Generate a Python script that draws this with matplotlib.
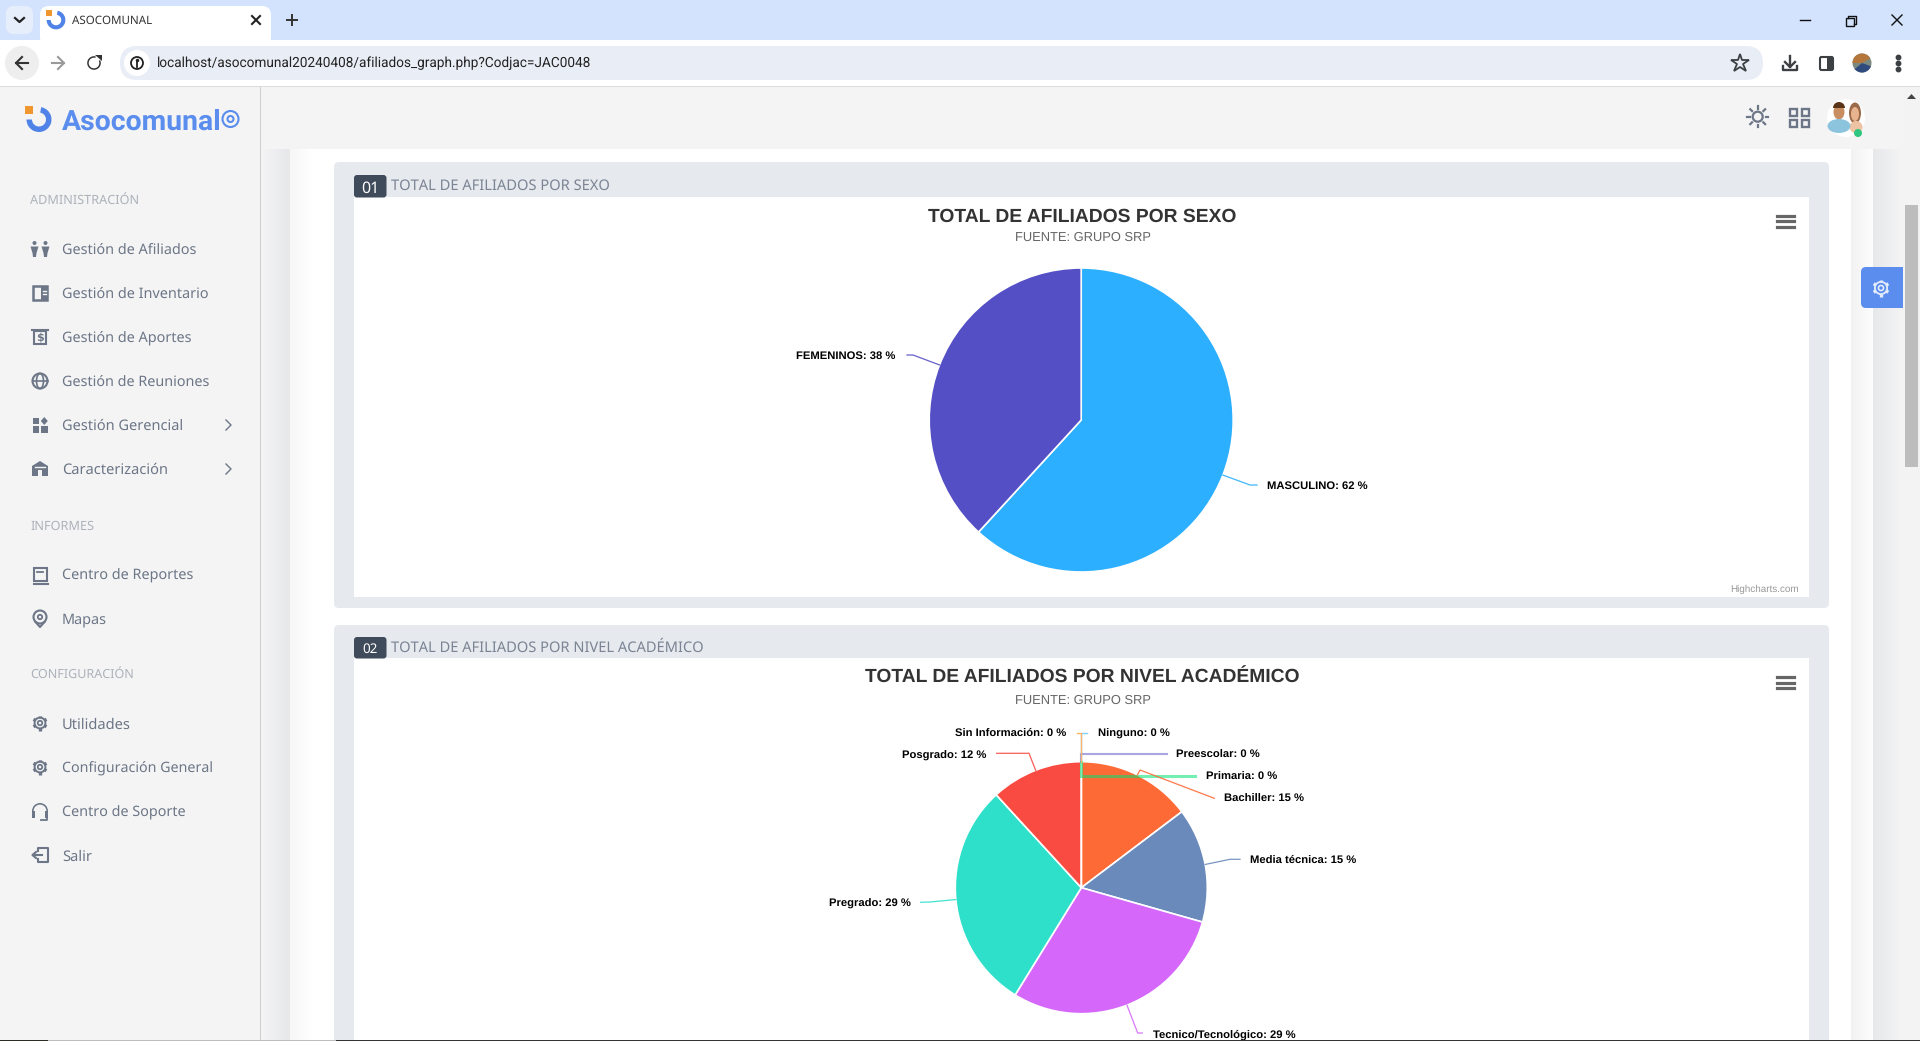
import numpy as np
import matplotlib
matplotlib.use("Agg")
import matplotlib.pyplot as plt
from matplotlib.patches import Circle, Rectangle, FancyBboxPatch, Wedge, Ellipse, Polygon
from matplotlib.textpath import TextPath
from matplotlib.font_manager import FontProperties
from matplotlib.colors import to_rgb

plt.rcParams["text.hinting"] = "no_hinting"

# ---------- data ----------
sexo_names = ["MASCULINO", "FEMENINOS"]
sexo_values = [61.8, 38.2]
sexo_colors = ["#2caffe", "#544fc5"]

nivel_names = ["Ninguno", "Preescolar", "Primaria", "Bachiller", "Media técnica",
               "Tecnico/Tecnológico", "Pregrado", "Posgrado", "Sin Información"]
nivel_values = [0, 0, 0, 14.7, 14.7, 29.4, 29.4, 11.8, 0]
nivel_colors = ["#2caffe", "#544fc5", "#00e272", "#fe6a35", "#6b8abc",
                "#d568fb", "#2ee0ca", "#fa4b42", "#feb56a"]

menu_admin = ["Gestión de Afiliados", "Gestión de Inventario", "Gestión de Aportes",
              "Gestión de Reuniones", "Gestión Gerencial", "Caracterización"]
menu_informes = ["Centro de Reportes", "Mapas"]
menu_config = ["Utilidades", "Configuración General", "Centro de Soporte", "Salir"]

W, H = 1920, 1041
UI = "Noto Sans"
fig = plt.figure(figsize=(W / 100, H / 100), dpi=100, facecolor="white")

def layer(z):
    a = fig.add_axes([0, 0, 1, 1], zorder=z)
    a.set_xlim(0, W)
    a.set_ylim(H, 0)
    a.axis("off")
    a.patch.set_alpha(0)
    return a

bg = layer(0)
fg = layer(2)

def fit(ax, x, y, s, width, family=UI, weight="normal", color="#333", ha="left", z=6):
    fp = FontProperties(family=family, weight=weight)
    w10 = TextPath((0, 0), s, size=10, prop=fp).get_extents().width
    pts = 10 * width / w10 * 0.72
    ax.text(x, y - 1, s, fontsize=pts, family=family, weight=weight, color=color, ha=ha,
            va="center_baseline", zorder=z)

def rect(ax, x0, y0, x1, y1, c, z=1, **k):
    ax.add_patch(Rectangle((x0, y0), x1 - x0, y1 - y0, fc=c, ec="none", zorder=z, **k))

def rrect(ax, x0, y0, x1, y1, c, r=4, z=1, ec="none", lw=0):
    ax.add_patch(FancyBboxPatch((x0, y0), x1 - x0, y1 - y0, boxstyle=f"round,pad=0,rounding_size={r}",
                                fc=c, ec=ec, lw=lw, zorder=z))

def grad(ax, x0, x1, y0, y1, c0, c1, z=1):
    a, b = np.array(to_rgb(c0)), np.array(to_rgb(c1))
    t = np.linspace(0, 1, 32)[:, None]
    img = (a * (1 - t) + b * t)[None, :, :]
    ax.imshow(img, extent=(x0, x1, y1, y0), aspect="auto", zorder=z, interpolation="bilinear")
    ax.set_xlim(0, W)
    ax.set_ylim(H, 0)

def gear(ax, x, y, r, c, lw=1.4, z=3):
    for t in np.arange(np.pi / 6, 2 * np.pi, np.pi / 3):
        ax.plot([x + .7 * r * np.cos(t), x + r * np.cos(t)], [y + .7 * r * np.sin(t), y + r * np.sin(t)],
                color=c, lw=2.4, zorder=z, solid_capstyle="butt")
    ax.add_patch(Circle((x, y), r * .72, fc="none", ec=c, lw=lw, zorder=z))
    ax.add_patch(Circle((x, y), r * .3, fc="none", ec=c, lw=lw * .9, zorder=z))

def logo(ax, x, y, s):
    ax.add_patch(Wedge((x, y), 12.5 * s, -80, 180, width=5.5 * s, fc="#4f83e8", ec="none", zorder=3))
    rect(ax, x - 14 * s, y - 14 * s, x - 6 * s, y - 6 * s, "#f0962e", z=3)

# ---------- browser chrome ----------
rect(bg, 0, 0, W, 40, "#d3e3fd")
rect(bg, 0, 40, W, 86, "#ffffff")
rect(bg, 0, 86, W, 87, "#dcdcdc", z=2)
rrect(bg, 40, 6, 271, 46, "#ffffff", r=9)
rrect(bg, 6, 6, 33, 34, "#e6eefc", r=8)
fg.plot([15, 19.5, 24], [18, 22, 18], color="#222", lw=1.6)
logo(fg, 56, 20, .75)
fit(bg, 72, 21, "ASOCOMUNAL", 80, color="#333")
fg.plot([252, 260], [16, 24], color="#222", lw=1.5)
fg.plot([252, 260], [24, 16], color="#222", lw=1.5)
fg.plot([287, 297], [20, 20], color="#333", lw=1.4)
fg.plot([292, 292], [15, 25], color="#333", lw=1.4)
fg.plot([1800, 1810], [20, 20], color="#111", lw=1)
fg.add_patch(Rectangle((1846, 18), 8, 8, fc="none", ec="#111", lw=1))
fg.plot([1848, 1848, 1856, 1856, 1854], [18, 15.5, 15.5, 23.5, 23.5], color="#111", lw=1)
fg.plot([1892, 1902], [15, 25], color="#111", lw=1)
fg.plot([1892, 1902], [25, 15], color="#111", lw=1)

bg.add_patch(Circle((22, 63), 17, fc="#eeeeee", ec="none", zorder=2))
fg.plot([16, 28], [63, 63], color="#333", lw=1.5)
fg.plot([22, 16, 22], [57, 63, 69], color="#333", lw=1.5)
fg.plot([52, 64], [63, 63], color="#9a9a9a", lw=1.5)
fg.plot([58, 64, 58], [57, 63, 69], color="#9a9a9a", lw=1.5)
fg.add_patch(Wedge((94, 63), 6.8, -25, 285, width=1.5, fc="#333", ec="none"))
fg.add_patch(Polygon([[95, 54.5], [101.5, 54.5], [101.5, 61]], fc="#333", ec="none"))
rrect(bg, 120, 46, 1763, 80, "#e9eef6", r=17, z=2)
bg.add_patch(Circle((137, 63), 13, fc="#ffffff", ec="none", zorder=3))
fg.add_patch(Circle((137, 63), 6, fc="none", ec="#222", lw=1.3))
fg.plot([137, 137], [62, 66.5], color="#222", lw=1.3)
fg.plot([137], [60], "o", ms=1.5, color="#222")
fit(fg, 157, 63, "localhost/asocomunal20240408/afiliados_graph.php?Codjac=JAC0048", 431, family="Roboto", color="#222")
fg.plot([1740], [63], marker="*", ms=13.5, mfc="none", mec="#3c4043", mew=1.3)
fg.plot([1790, 1790], [56, 67], color="#3c4043", lw=1.7)
fg.plot([1785, 1790, 1795], [62, 67, 62], color="#3c4043", lw=1.7)
fg.plot([1783, 1783, 1797, 1797], [66, 70, 70, 66], color="#3c4043", lw=1.7)
rrect(fg, 1820, 57, 1833, 70, "#ffffff", r=1.5, ec="#3c4043", lw=1.5)
rect(fg, 1827, 57, 1833, 70, "#3c4043")
fg.add_patch(Circle((1862, 63), 9.5, fc="#7a8a80", ec="none"))
fg.add_patch(Wedge((1862, 63), 9.5, 180, 330, fc="#b5763c", ec="none"))
fg.add_patch(Wedge((1862, 63), 9.5, 20, 140, fc="#2f4a7d", ec="none"))
for yy in (57, 63, 69):
    fg.plot([1898], [yy], "o", ms=3.2, color="#3c4043")

# ---------- page background ----------
rect(bg, 0, 87, 260, H, "#f4f4f5")
rect(bg, 260, 87, 1903, 149, "#f4f4f5")
rect(bg, 260, 87, 261, H, "#cfcfcf", z=3)
rect(bg, 261, 149, 1903, H, "#ffffff")
grad(bg, 261, 290, 149, H, "#f4f4f5", "#e7e8ea")
grad(bg, 290, 312, 149, H, "#f7f7f7", "#ffffff")
grad(bg, 1851, 1873, 149, H, "#f2f2f3", "#fdfdfd")
grad(bg, 1873, 1903, 149, H, "#e7e8ea", "#f4f4f5")
rect(bg, 1903, 87, W, H, "#f3f3f3")
rect(bg, 1905, 205, 1918, 467, "#bdbdbd", z=2)
bg.add_patch(Polygon([[1907, 99], [1911.5, 94], [1916, 99]], fc="#444", ec="none", zorder=2))
rect(fg, 0, 1040, 48, H, "#2c2c20", z=5)
rect(fg, 48, 1040, 336, H, "#bdbdbd", z=5)
rect(fg, 336, 1040, 1920, H, "#333333", z=5)

# header icons
IC = "#6c7686"
fg.add_patch(Circle((1757.7, 116.7), 5, fc="none", ec=IC, lw=1.6))
for t in np.arange(0, 2 * np.pi, np.pi / 4):
    fg.plot([1757.7 + 8 * np.cos(t), 1757.7 + 10.5 * np.cos(t)], [116.7 + 8 * np.sin(t), 116.7 + 10.5 * np.sin(t)], color=IC, lw=1.6)
for dx in (1790, 1801.5):
    for dy in (108.5, 120):
        fg.add_patch(Rectangle((dx, dy), 7, 7, fc="none", ec=IC, lw=1.7))
fg.add_patch(Circle((1846, 118), 19, fc="#ffffff", ec="none"))
fg.add_patch(Ellipse((1855, 113), 12, 21, fc="#9a6a4a", ec="none"))
fg.add_patch(Ellipse((1855, 114), 8, 14, fc="#e8b48f", ec="none"))
fg.add_patch(Ellipse((1856, 127), 13, 12, fc="#eec3a4", ec="none"))
fg.add_patch(Ellipse((1839, 112), 11, 15, fc="#c98d62", ec="none"))
fg.add_patch(Wedge((1839, 108), 6, 180, 360, fc="#5a3418", ec="none"))
fg.add_patch(Ellipse((1839, 126), 23, 14, fc="#8cc4de", ec="none"))
fg.add_patch(Circle((1858, 133), 4, fc="#2fc77f", ec="none"))

# settings tab
rrect(bg, 1861, 267, 1912, 308, "#5a8dee", r=5, z=4)
rect(bg, 1903, 267, 1905, 308, "#f3f3f3", z=5)
rect(bg, 1905, 267, 1918, 308, "#bdbdbd", z=5)
rect(bg, 1918, 267, W, 308, "#f3f3f3", z=5)
gear(fg, 1881, 288, 8.5, "#e4ecfb", lw=1.3)

# ---------- sidebar ----------
logo(bg, 39, 119.5, 1.0)
fit(bg, 61.5, 120, "Asocomunal", 158, family="Roboto", weight="bold", color="#5a8dee")
bg.add_patch(Circle((230.5, 119), 8, fc="none", ec="#5a8dee", lw=1.5, zorder=3))
bg.add_patch(Circle((230.5, 119), 3, fc="none", ec="#5a8dee", lw=1.5, zorder=3))

TC = "#6c7686"
menu_w = {"Gestión de Afiliados": 133, "Gestión de Inventario": 145, "Gestión de Aportes": 128,
          "Gestión de Reuniones": 146, "Gestión Gerencial": 119, "Caracterización": 104,
          "Centro de Reportes": 130, "Mapas": 43, "Utilidades": 67,
          "Configuración General": 149, "Centro de Soporte": 122, "Salir": 29}
fit(bg, 30, 200, "ADMINISTRACIÓN", 108, color="#adb2ba")
fit(bg, 30, 526, "INFORMES", 63, color="#adb2ba")
fit(bg, 30, 674, "CONFIGURACIÓN", 102, color="#adb2ba")
for names, y0 in ((menu_admin, 249), (menu_informes, 575), (menu_config, 724)):
    for i, n in enumerate(names):
        fit(bg, 62, y0 + 44 * i, n, menu_w[n], color=TC)
for yy in (425, 469):
    fg.plot([226, 231, 226], [yy - 5, yy, yy + 5], color=TC, lw=1)

# sidebar icons
for dx in (-5.5, 5.5):                                      # people
    fg.add_patch(Circle((40 + dx, 243), 2, fc=IC, ec="none"))
    fg.add_patch(Polygon([[40 + dx - 4, 246.5], [40 + dx + 4, 246.5], [40 + dx + 2, 253], [40 + dx + 1.5, 257], [40 + dx - 1.5, 257], [40 + dx - 2, 253]], fc=IC, ec="none"))
fg.add_patch(Rectangle((33, 286), 14, 14, fc="none", ec=IC, lw=1.8))      # inventory
rect(fg, 41, 286, 48, 301, IC)
fg.plot([42.5, 46], [291, 291], color="#f4f4f5", lw=1)
fg.plot([42.5, 46], [294, 294], color="#f4f4f5", lw=1)
fg.add_patch(Rectangle((34, 331), 12, 13, fc="none", ec=IC, lw=1.5))      # aportes
fg.plot([32, 48], [329.5, 329.5], color=IC, lw=1.5)
fg.text(40, 337.5, "$", fontsize=8, color=IC, ha="center", va="center", weight="bold")
fg.add_patch(Circle((40, 381), 7.5, fc="none", ec=IC, lw=1.5))            # globe
fg.add_patch(Ellipse((40, 381), 7, 15, fc="none", ec=IC, lw=1.2))
fg.plot([32.5, 47.5], [381, 381], color=IC, lw=1.2)
rect(fg, 32.5, 418, 39, 424, IC)                                          # grid
rect(fg, 32.5, 426, 39, 432.5, IC)
rect(fg, 41, 426, 47.5, 432.5, IC)
fg.add_patch(Polygon([[44.3, 417], [47.8, 421], [44.3, 425], [40.8, 421]], fc=IC, ec="none"))
fg.add_patch(Polygon([[32, 476], [32, 466], [40, 461], [48, 466], [48, 476]], fc=IC, ec="none"))  # house
fg.add_patch(Rectangle((38, 470), 4, 6, fc="#f4f4f5", ec="none"))
fg.plot([35, 45], [466.5, 466.5], color="#f4f4f5", lw=1)
fg.add_patch(Rectangle((33.5, 568), 13, 13, fc="none", ec=IC, lw=1.5))    # book
fg.plot([33.5, 47.5], [583.5, 583.5], color=IC, lw=1.5)
fg.plot([37, 43], [572, 572], color=IC, lw=1.3)
fg.add_patch(Circle((40, 617), 6.5, fc="none", ec=IC, lw=1.5))            # pin
fg.add_patch(Circle((40, 617), 2.2, fc="none", ec=IC, lw=1.3))
fg.plot([35.5, 40, 44.5], [622, 627, 622], color=IC, lw=1.5)
gear(fg, 40, 723, 7.5, IC)
gear(fg, 40, 767, 7.5, IC)
fg.add_patch(Wedge((40, 811), 8, 180, 360, width=1.6, fc=IC, ec="none"))  # headset
rect(fg, 32, 811, 35, 818, IC)
rect(fg, 45, 811, 48, 818, IC)
fg.plot([47, 47, 41], [818, 820, 820], color=IC, lw=1.3)
fg.plot([38, 38, 47.5, 47.5, 38, 38], [851, 848, 848, 862, 862, 859], color=IC, lw=1.5)   # exit
fg.plot([32.5, 42], [855, 855], color=IC, lw=1.5)
fg.plot([36, 32.5, 36], [852, 855, 858], color=IC, lw=1.5)

# ---------- panels ----------
def panel(y0, y1, y_white, y_end, num, title, title_w, badge_y):
    rrect(bg, 334, y0, 1829, y1, "#e6e9ed", r=5, z=2)
    rect(bg, 354, y_white, 1809, y_end, "#ffffff", z=3)
    rrect(bg, 354, badge_y, 386.5, y_white + .5, "#3f4a5a", r=3, z=4)
    fit(bg, 370, (badge_y + y_white) / 2 + 1.5, num, 14, weight="bold", color="#ffffff", ha="center")
    fit(bg, 391, badge_y + 10.5, title, title_w, color="#7b8494")

panel(162, 608, 197, 597, "01", "TOTAL DE AFILIADOS POR SEXO", 218, 175)
panel(625, H + 10, 658, H + 10, "02", "TOTAL DE AFILIADOS POR NIVEL ACADÉMICO", 312, 637)

for ys in ((215.5, 221, 226.5), (677, 682.5, 688)):
    for yy in ys:
        fg.plot([1777, 1794], [yy, yy], color="#666666", lw=2.3)
fit(fg, 1799, 589.5, "Highcharts.com", 67, family="Liberation Sans", color="#999999", ha="right")

AR = "Liberation Sans"
fit(fg, 1082, 215.5, "TOTAL DE AFILIADOS POR SEXO", 307, family=AR, weight="bold", color="#333333", ha="center")
fit(fg, 1082.5, 237.5, "FUENTE: GRUPO SRP", 135, family=AR, color="#666666", ha="center")
fit(fg, 1082, 677, "TOTAL DE AFILIADOS POR NIVEL ACADÉMICO", 434, family=AR, weight="bold", color="#333333", ha="center")
fit(fg, 1082.5, 700.5, "FUENTE: GRUPO SRP", 135, family=AR, color="#666666", ha="center")

# ---------- pies ----------
def pie(values, colors, cx, cy, r):
    m = r + 3
    a = fig.add_axes([(cx - m) / W, 1 - (cy + m) / H, 2 * m / W, 2 * m / H], zorder=1)
    a.patch.set_alpha(0)
    a.pie(values, colors=colors, startangle=90, counterclock=False, radius=1,
          wedgeprops=dict(edgecolor="white", linewidth=1.2), frame=False)
    a.set_xlim(-m / r, m / r)
    a.set_ylim(-m / r, m / r)
    a.axis("off")

def edge_point(values, i, cx, cy, r):
    v = np.array(values, float)
    frac = (v[:i].sum() + v[i] / 2) / v.sum()
    t = 2 * np.pi * frac
    return cx + r * np.sin(t), cy - r * np.cos(t)

def labels(names, values, colors, cx, cy, r, layout):
    for i, (name, val, col) in enumerate(zip(names, values, colors)):
        lx, ly, ha, path, lw, al = layout[name]
        sx, sy = edge_point(values, i, cx, cy, r)
        xs = [sx] + [p[0] for p in path]
        ys = [sy] + [p[1] for p in path]
        fg.plot(xs, ys, color=col, lw=lw, alpha=al, zorder=3, solid_joinstyle="miter")
        fg.text(lx, ly - .8, f"{name}: {round(val)} %", fontsize=8.1, family=AR, weight="bold",
                color="#000000", ha=ha, va="center_baseline", zorder=4)

C1 = (1081.2, 420.0, 152.0)
C2 = (1081.3, 887.7, 126.0)
pie(sexo_values, sexo_colors, *C1)
pie(nivel_values, nivel_colors, *C2)

layout1 = {
    "MASCULINO": (1267, 486, "left", [(1250, 485), (1257, 485)], .9, .9),
    "FEMENINOS": (895.5, 356, "right", [(913, 355), (907, 355)], .9, .9),
}
labels(sexo_names, sexo_values, sexo_colors, *C1, layout1)

layout2 = {
    "Ninguno": (1097.7, 733, "left", [(1081.3, 732.5), (1086.7, 732.5)], 1.0, .6),
    "Preescolar": (1176, 755, "left", [(1081.3, 754), (1166.7, 754)], 1.5, .5),
    "Primaria": (1205.7, 777, "left", [(1081.3, 776), (1195, 776)], 2.2, .55),
    "Bachiller": (1224, 799, "left", [(1140, 770), (1214.3, 798.3)], .9, .9),
    "Media técnica": (1250, 860, "left", [(1230, 859.3), (1240, 859.3)], .9, .9),
    "Tecnico/Tecnológico": (1153, 1034, "left", [(1137.7, 1033), (1142.3, 1033)], .9, .9),
    "Pregrado": (910.7, 903, "right", [(930, 902), (920.7, 902.3)], .9, .9),
    "Posgrado": (986, 755, "right", [(1029, 753.3), (996.7, 753.3)], .9, .9),
    "Sin Información": (1066, 733, "right", [(1081.3, 732.5), (1076.7, 732.5)], 1.0, 1),
}
labels(nivel_names, nivel_values, nivel_colors, *C2, layout2)

fig.savefig("out.png", dpi=100)
